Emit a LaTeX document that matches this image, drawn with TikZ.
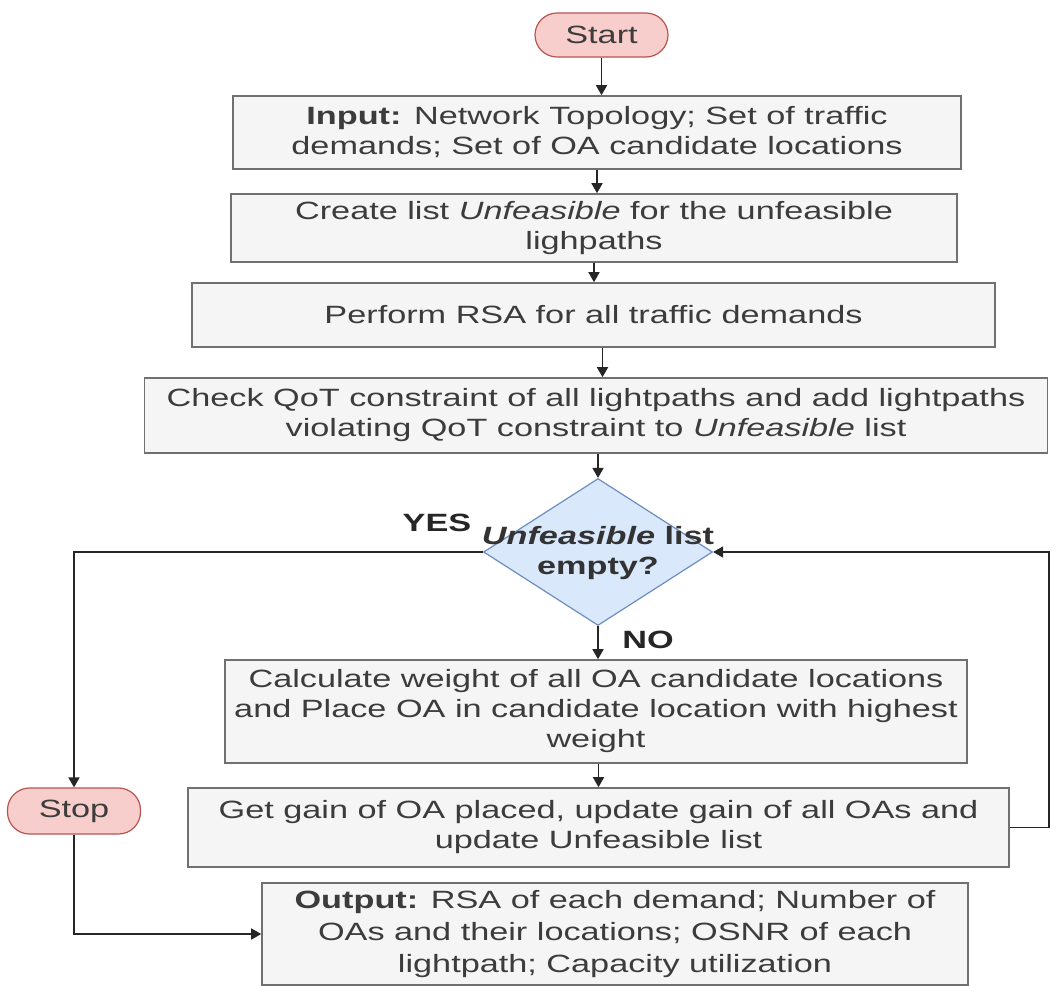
\documentclass[tikz,border=0pt]{standalone}
\usepackage{fontspec}
\setmainfont{Liberation Sans}[FakeStretch=1.37]
\usetikzlibrary{shapes.geometric,arrows.meta}
\definecolor{boxfill}{HTML}{F5F5F5}
\definecolor{boxline}{HTML}{707070}
\definecolor{termfill}{HTML}{F8CECC}
\definecolor{termline}{HTML}{B85450}
\definecolor{decfill}{HTML}{DAE8FC}
\definecolor{decline}{HTML}{6C8EBF}
\definecolor{txtgray}{HTML}{3C3C3C}
\begin{document}
\begin{tikzpicture}
[x=0.5pt,y=-0.5pt,
 every node/.style={font=\fontsize{12.5}{15}\selectfont,text=txtgray,align=center,inner sep=0pt},
 box/.style={draw=boxline,fill=boxfill,line width=0.8pt},
 term/.style={draw=termline,fill=termfill,line width=0.6pt,rounded corners=11pt,minimum width=66.5pt,minimum height=22pt},
 decide/.style={diamond,draw=decline,fill=decfill,line width=0.6pt,minimum width=114.5pt,minimum height=73.5pt},
 flow/.style={-{Triangle[length=5pt,width=5.5pt]},line width=0.8pt,black!85}]

  \useasboundingbox (0,0) rectangle (1059,985);

  \node[term] (start) at (601.5,35) {Start};
  \node[box,minimum width=364pt,minimum height=36.5pt] (input) at (597,132.5)
    {\textbf{Input:} Network Topology; Set of traffic\\demands; Set of OA candidate locations};
  \node[box,minimum width=363pt,minimum height=34pt] (create) at (594,228)
    {Create list \textit{Unfeasible} for the unfeasible\\lighpaths};
  \node[box,minimum width=401.5pt,minimum height=32pt] (rsa) at (593.5,315)
    {Perform RSA for all traffic demands};
  \node[box,minimum width=451.5pt,minimum height=37.5pt] (qot) at (596,415.5)
    {Check QoT constraint of all lightpaths and add lightpaths\\violating QoT constraint to \textit{Unfeasible} list};
  \node[decide] (dec) at (598,552) {};
  \node[text=black!80,font=\fontsize{12.5}{15}\selectfont\bfseries] (dectext) at (598,553)
    {\textit{Unfeasible} list\\empty?};
  \node[box,minimum width=371pt,minimum height=51.5pt] (calc) at (596,711.5)
    {Calculate weight of all OA candidate locations\\and Place OA in candidate location with highest\\weight};
  \node[box,minimum width=410.5pt,minimum height=39.5pt] (gain) at (598.5,827.5)
    {Get gain of OA placed, update gain of all OAs and\\update Unfeasible list};
  \node[term,minimum height=23pt] (stop) at (74,811) {Stop};
  \node[box,minimum width=353pt,minimum height=51pt,font=\fontsize{12.5}{16}\selectfont] (out) at (615,934)
    {\textbf{Output:} RSA of each demand; Number of\\OAs and their locations; OSNR of each\\lightpath; Capacity utilization};

  \node[font=\fontsize{12.5}{15}\selectfont\bfseries,text=black!85] (yes) at (437,523) {YES};
  \node[font=\fontsize{12.5}{15}\selectfont\bfseries,text=black!85] (no) at (648,640) {NO};

  \draw[flow] (start.south) -- (start.south |- input.north);
  \draw[flow] (input.south) -- (input.south |- create.north);
  \draw[flow] (create.south) -- (create.south |- rsa.north);
  \draw[flow] ([xshift=4.5pt]rsa.south) -- ([xshift=4.5pt]rsa.south |- qot.north);
  \draw[flow] (qot.south -| dec.north) -- (dec.north);
  \draw[flow] (dec.south) -- (dec.south |- calc.north);
  \draw[flow] (calc.south -| gain.north) -- (gain.north);
  \draw[flow] (dec.west) -| (stop.north);
  \draw[flow] (stop.south) |- (out.west);
  \draw[flow] (gain.east) -- ++(39,0) |- (dec.east);
\end{tikzpicture}
\end{document}
